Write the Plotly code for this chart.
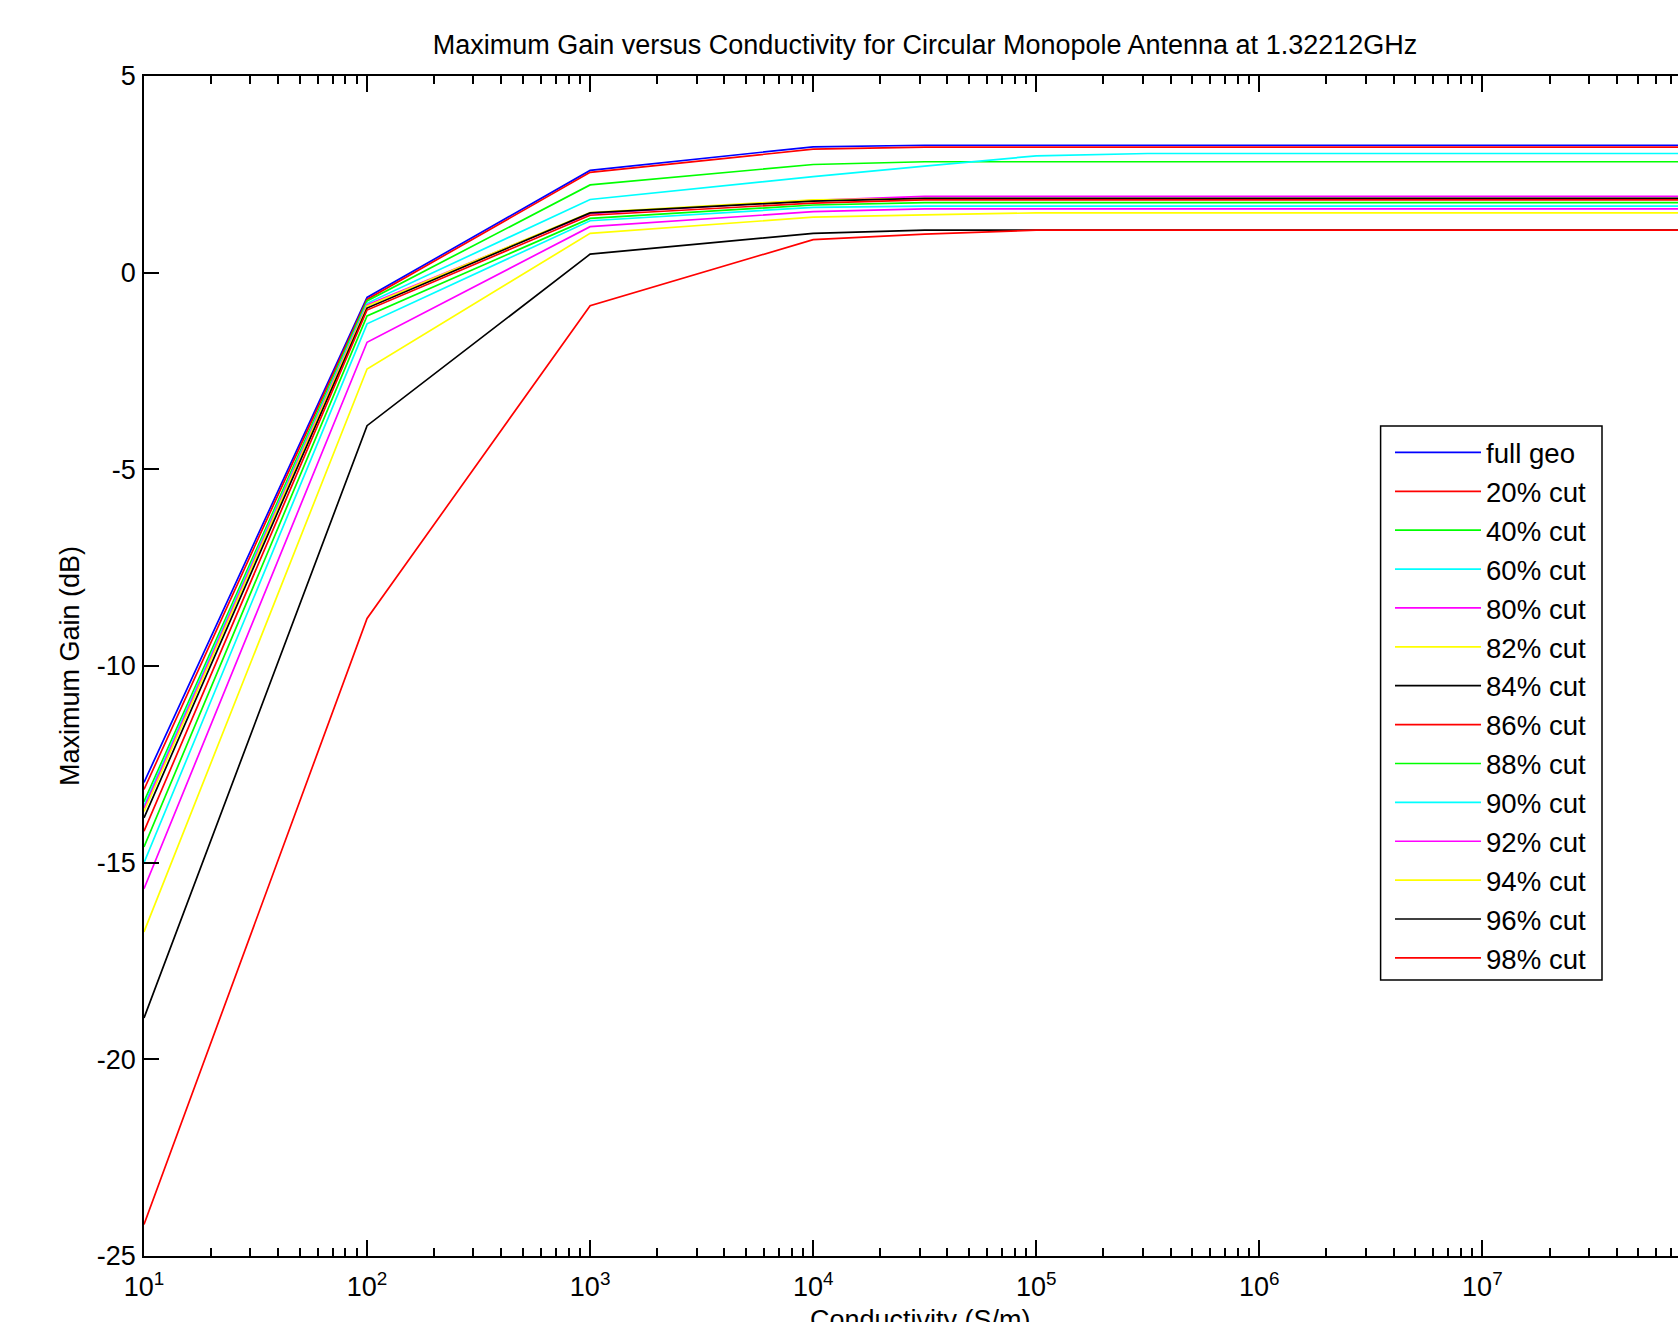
import plotly.graph_objects as go

# ---------------- data ----------------
conductivity = [1e1, 1e2, 1e3, 1e4, 3.162e4, 1e5, 3.162e5, 1e8]  # S/m

series_names = ["full geo", "20% cut", "40% cut", "60% cut", "80% cut", "82% cut", "84% cut",
                "86% cut", "88% cut", "90% cut", "92% cut", "94% cut", "96% cut", "98% cut"]
series_colors = ["#0000ff", "#ff0000", "#00ff00", "#00ffff", "#ff00ff", "#ffff00", "#000000",
                 "#ff0000", "#00ff00", "#00ffff", "#ff00ff", "#ffff00", "#000000", "#ff0000"]

gain_full_geo = [-12.96, -0.63, 2.60, 3.20, 3.24, 3.24, 3.24, 3.24]
gain_cut20 = [-13.14, -0.68, 2.55, 3.14, 3.19, 3.19, 3.19, 3.19]
gain_cut40 = [-13.45, -0.72, 2.23, 2.75, 2.82, 2.82, 2.82, 2.82]
gain_cut60 = [-13.55, -0.78, 1.86, 2.44, 2.71, 2.97, 3.03, 3.03]
gain_cut80 = [-13.62, -0.82, 1.50, 1.84, 1.94, 1.94, 1.94, 1.94]
gain_cut82 = [-13.70, -0.85, 1.53, 1.85, 1.88, 1.88, 1.88, 1.88]
gain_cut84 = [-13.86, -0.90, 1.52, 1.82, 1.89, 1.89, 1.89, 1.89]
gain_cut86 = [-14.20, -0.95, 1.46, 1.77, 1.85, 1.85, 1.85, 1.85]
gain_cut88 = [-14.60, -1.10, 1.38, 1.72, 1.78, 1.78, 1.78, 1.78]
gain_cut90 = [-15.00, -1.30, 1.32, 1.66, 1.69, 1.69, 1.69, 1.69]
gain_cut92 = [-15.66, -1.77, 1.17, 1.55, 1.62, 1.62, 1.62, 1.62]
gain_cut94 = [-16.76, -2.45, 1.00, 1.41, 1.47, 1.52, 1.52, 1.52]
gain_cut96 = [-18.95, -3.89, 0.47, 1.00, 1.08, 1.08, 1.08, 1.08]
gain_cut98 = [-24.20, -8.79, -0.84, 0.84, 0.98, 1.08, 1.08, 1.08]

all_gains = [gain_full_geo, gain_cut20, gain_cut40, gain_cut60, gain_cut80, gain_cut82, gain_cut84,
             gain_cut86, gain_cut88, gain_cut90, gain_cut92, gain_cut94, gain_cut96, gain_cut98]

x_tick_values = [1e1, 1e2, 1e3, 1e4, 1e5, 1e6, 1e7]
x_tick_labels = ["10<sup>1</sup>", "10<sup>2</sup>", "10<sup>3</sup>", "10<sup>4</sup>",
                 "10<sup>5</sup>", "10<sup>6</sup>", "10<sup>7</sup>"]
y_tick_values = [-25, -20, -15, -10, -5, 0, 5]
y_tick_labels = ["-25", "-20", "-15", "-10", "-5", "0", "5"]

title_text = "Maximum Gain versus Conductivity for Circular Monopole Antenna at 1.32212GHz"
x_title_text = "Conductivity (S/m)"
y_title_text = "Maximum Gain (dB)"

# ---------------- figure ----------------
FONT = "Liberation Sans, Arial, Helvetica, sans-serif"
W, H = 1678, 1322
L, T, B = 144, 76, 66
PW, PH = W - L, H - T - B


def px_x(p):
    return (p - L) / PW


def px_y(p):
    return (H - B - p) / PH


fig = go.Figure()
for name, color, gains in zip(series_names, series_colors, all_gains):
    fig.add_trace(go.Scatter(x=conductivity, y=gains, mode="lines", name=name,
                             line=dict(color=color, width=1.7)))

minor_vals = [m * 10 ** k for k in range(1, 8) for m in range(2, 10)]

fig.update_layout(
    width=W, height=H,
    paper_bgcolor="white", plot_bgcolor="white",
    margin=dict(l=L, r=0, t=T, b=B, autoexpand=False),
    font=dict(family=FONT, size=27, color="black"),
    title=dict(text=title_text,
               x=925 / W, xref="container", xanchor="center",
               y=1 - 45 / H, yref="container", yanchor="middle",
               font=dict(family=FONT, size=27, color="black")),
    showlegend=True,
    legend=dict(x=px_x(1390), y=px_y(428), xanchor="left", yanchor="top",
                bgcolor="rgba(0,0,0,0)", borderwidth=0,
                font=dict(family=FONT, size=27.6, color="black"),
                itemwidth=86, tracegroupgap=0),
    shapes=[dict(type="rect", xref="paper", yref="paper",
                 x0=px_x(1380.6), x1=px_x(1602), y0=px_y(980), y1=px_y(426),
                 line=dict(color="black", width=1.5), fillcolor="white", layer="above")],
    annotations=[dict(text=x_title_text, xref="paper", yref="paper",
                      x=px_x(920), y=px_y(1303), xanchor="center", yanchor="top",
                      showarrow=False, font=dict(family=FONT, size=27, color="black"))],
)

fig.update_xaxes(
    type="log", range=[1, 7.877],
    tickmode="array", tickvals=x_tick_values, ticktext=x_tick_labels,
    ticks="inside", ticklen=16, tickwidth=1.5, tickcolor="black",
    showline=True, linecolor="black", linewidth=1.7, mirror="ticks",
    showgrid=False, zeroline=False,
    minor=dict(tickmode="array", tickvals=minor_vals, ticks="inside", ticklen=8,
               tickwidth=1.5, tickcolor="black", showgrid=False),
    ticklabelstandoff=6,
    automargin=False,
)
fig.update_yaxes(
    range=[-25, 5],
    tickmode="array", tickvals=y_tick_values, ticktext=y_tick_labels,
    ticks="inside", ticklen=15, tickwidth=1.5, tickcolor="black",
    showline=True, linecolor="black", linewidth=1.7, mirror=False,
    showgrid=False, zeroline=False,
    ticklabelstandoff=1,
    automargin=False,
    title=dict(text=y_title_text, standoff=9, font=dict(family=FONT, size=27)),
)

fig.write_html("out.html", config={"displayModeBar": False},
               post_script="document.body.style.margin='0';document.body.style.overflow='hidden';")
